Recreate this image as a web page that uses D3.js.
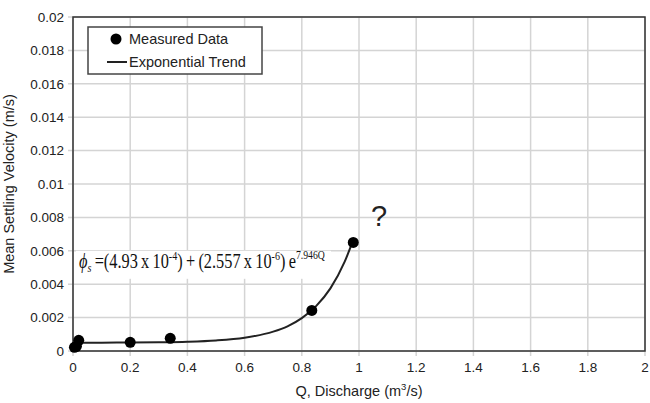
<!DOCTYPE html>
<html>
<head>
<meta charset="utf-8">
<script src="https://cdn.jsdelivr.net/npm/d3@7"></script>
<style>
  body { margin: 0; background: #fff; }
  text { font-family: Arial, "Liberation Sans", sans-serif; fill: #222; }
  text.eq { font-family: "Liberation Serif", "Times New Roman", serif; fill: #111; }
</style>
</head>
<body>
<script>
// measured points
var measuredQ = [0.005, 0.012, 0.02, 0.2, 0.34, 0.835, 0.98];
var measuredV = [0.00022, 0.00028, 0.00064, 0.00052, 0.00076, 0.00243, 0.0065];

// exponential trend
var trendQ = [0, 0.1, 0.2, 0.3, 0.4, 0.5, 0.6, 0.7, 0.75, 0.8, 0.85, 0.9, 0.95, 0.98];
var trendV = [0.000496, 0.000499, 0.000506, 0.000521, 0.000554, 0.000629, 0.000794, 0.00116, 0.00148, 0.00197, 0.00269, 0.00375, 0.00535, 0.00665];

var xTicks = [0, 0.2, 0.4, 0.6, 0.8, 1, 1.2, 1.4, 1.6, 1.8, 2];
var yTicks = [0, 0.002, 0.004, 0.006, 0.008, 0.01, 0.012, 0.014, 0.016, 0.018, 0.02];
var legendLabels = ["Measured Data", "Exponential Trend"];

var margin = { left: 73, right: 5, top: 17, bottom: 52 },
    width = 650 - margin.left - margin.right,
    height = 403 - margin.top - margin.bottom;

var svg = d3.select("body").append("svg")
    .attr("width", 650)
    .attr("height", 403);

var g = svg.append("g")
    .attr("transform", "translate(" + margin.left + "," + margin.top + ")");

var x = d3.scaleLinear().domain([0, 2]).range([0, width]);
var y = d3.scaleLinear().domain([0, 0.02]).range([height, 0]);

//grid
g.append("g").selectAll("line")
    .data(xTicks).enter().append("line")
    .attr("x1", d => x(d)).attr("x2", d => x(d))
    .attr("y1", 0).attr("y2", height + 5)
    .attr("stroke", "#d4d4d4").attr("stroke-width", 1.5);

g.append("g").selectAll("line")
    .data(yTicks).enter().append("line")
    .attr("x1", -5).attr("x2", width)
    .attr("y1", d => y(d)).attr("y2", d => y(d))
    .attr("stroke", "#d4d4d4").attr("stroke-width", 1.5);

//frame
g.append("rect")
    .attr("width", width).attr("height", height)
    .attr("fill", "none").attr("stroke", "#333").attr("stroke-width", 1.5);

//axes labels
var fmt = d => String(+d.toFixed(3));
g.append("g").selectAll("text")
    .data(yTicks).enter().append("text")
    .attr("x", -9).attr("y", d => y(d)).attr("dy", "0.36em")
    .attr("text-anchor", "end").attr("font-size", 13.5)
    .text(fmt);

g.append("g").selectAll("text")
    .data(xTicks).enter().append("text")
    .attr("x", d => x(d)).attr("y", height + 21)
    .attr("text-anchor", "middle").attr("font-size", 13.5)
    .text(fmt);

svg.append("text")
    .attr("transform", "translate(14," + (margin.top + height / 2) + ") rotate(-90)")
    .attr("text-anchor", "middle").attr("font-size", 14.5)
    .text("Mean Settling Velocity (m/s)");

var xl = svg.append("text")
    .attr("x", margin.left + width / 2).attr("y", 396)
    .attr("text-anchor", "middle").attr("font-size", 14.5);
xl.append("tspan").text("Q, Discharge (m");
xl.append("tspan").attr("font-size", 9.5).attr("dy", -6).text("3");
xl.append("tspan").attr("dy", 6).text("/s)");

//equation label (white box behind, text squeezed to fit like the original)
var eq = g.append("g");
eq.append("rect")
    .attr("x", 3).attr("y", y(0.00600)).attr("width", 255).attr("height", 28)
    .attr("fill", "#fff");
var eqInner = eq.append("g");
var eqText = eqInner.append("text")
    .attr("class", "eq")
    .attr("x", 0).attr("y", 0)
    .attr("font-size", 21);
var thin = "\u2009";
eqText.append("tspan").attr("font-style", "italic").text("\u03D5");
eqText.append("tspan").attr("font-style", "italic").attr("font-size", 13).attr("dy", 4).text("s");
eqText.append("tspan").attr("dy", -4).text(thin + "=(4.93" + thin + "x" + thin + "10");
eqText.append("tspan").attr("font-size", 13).attr("dy", -8).text("-4");
eqText.append("tspan").attr("dy", 8).text(")" + thin + "+" + thin + "(2.557" + thin + "x" + thin + "10");
eqText.append("tspan").attr("font-size", 13).attr("dy", -8).text("-6");
eqText.append("tspan").attr("dy", 8).text(")" + thin + "e");
eqText.append("tspan").attr("font-size", 12.5).attr("dy", -9).text("7.946Q");
var bw = eqText.node().getBBox().width;
eqInner.attr("transform", "translate(6," + y(0.00497) + ") scale(" + (246 / bw) + ",1)");

//trend line
var trend = trendQ.map((q, i) => [q, trendV[i]]);
g.append("path")
    .datum(trend)
    .attr("fill", "none").attr("stroke", "#222").attr("stroke-width", 2)
    .attr("d", d3.line().x(d => x(d[0])).y(d => y(d[1])).curve(d3.curveMonotoneX));

//points
g.append("g").selectAll("circle")
    .data(measuredQ).enter().append("circle")
    .attr("cx", d => x(d))
    .attr("cy", (d, i) => y(measuredV[i]))
    .attr("r", 5.5).attr("fill", "#000");

//question mark
g.append("text")
    .attr("x", x(1.07)).attr("y", y(0.0075))
    .attr("text-anchor", "middle").attr("font-size", 29)
    .text("?");

//legend
var legend = g.append("g").attr("transform", "translate(15,10)");
legend.append("rect")
    .attr("width", 174).attr("height", 47)
    .attr("fill", "#fff").attr("stroke", "#444").attr("stroke-width", 1.5);
legend.append("circle").attr("cx", 28).attr("cy", 12).attr("r", 5.5).attr("fill", "#000");
legend.append("line").attr("x1", 19).attr("x2", 39).attr("y1", 35).attr("y2", 35)
    .attr("stroke", "#222").attr("stroke-width", 2);
legend.selectAll("text.lg")
    .data(legendLabels).enter().append("text")
    .attr("class", "lg")
    .attr("x", 41).attr("y", (d, i) => 12 + i * 23).attr("dy", "0.36em")
    .attr("font-size", 14.5)
    .text(d => d);
</script>
</body>
</html>
